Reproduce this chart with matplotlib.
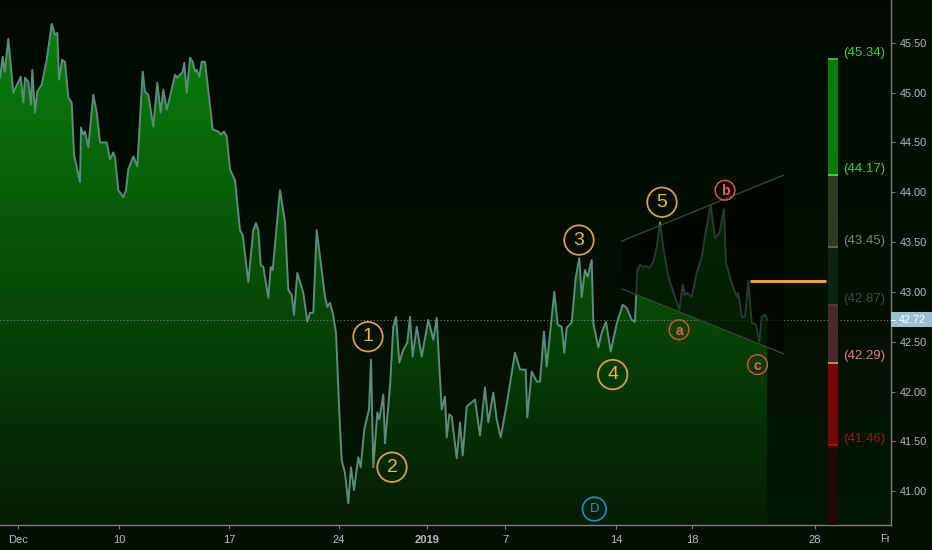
import numpy as np
import matplotlib
matplotlib.use("Agg")
import matplotlib.pyplot as plt
from matplotlib.transforms import Bbox, blended_transform_factory
from matplotlib.patches import Rectangle, Polygon

plt.rcParams['font.family'] = ['Liberation Sans', 'DejaVu Sans']

# ---------------- data ----------------
bar_x = [0, 2.7, 4.7, 8.3, 13.3, 20.7, 23.3, 25, 28.3, 31, 32.3, 35, 37.3, 41.7, 46.7,
         51.7, 55, 57.3, 59, 62, 65, 68.3, 71.7, 74, 80, 81, 83.3, 85, 88.3, 93.3,
         96.7, 100, 106.7, 110, 113.3, 115, 118.3, 123.3, 126, 128.3, 133.3, 137.3, 142.7, 145, 148.3,
         153.3, 157.3, 160.7, 163.3, 166.7, 170, 175, 177.3, 182.7, 184.3, 186.7, 190, 192.7, 195, 196.7,
         199.3, 201.7, 205, 212.7, 218.3, 221, 224, 226.7, 230,
         235, 240, 242.7, 248.3, 253.3, 256, 258.3, 260.7, 263.3, 268.3, 270.7, 272.7, 280, 285, 288.3,
         291.7, 294, 297.3, 303.3, 307.3, 310, 313.3, 316.7, 320, 325, 327.3, 330, 332.7, 336, 339.3,
         341.7, 345, 348.3, 351, 354, 358.3, 360.7, 364.3, 369, 371, 373.3, 377.3, 379.3, 383.3, 385,
         390, 393.3, 396, 399.3, 403.3, 407.3, 410, 412.7, 416.7, 421.7, 428.3, 433.3, 436.7,
         441.7, 445, 446.7, 449.3, 451.7, 456.7, 460, 462.7, 466.7, 475, 480, 485, 488.3, 493.3, 496.7,
         500.7, 506.7, 515, 520, 525.7, 527.3, 531.7, 536.7, 540, 544, 546.7, 550.7, 554.3, 557.7, 561.7,
         564.3, 566.7, 571.7, 575.7, 579.3, 581.7, 585, 587.7, 591.7, 593.3, 598.3, 601.7, 606, 610.7, 616.7,
         622.7, 626.7, 631.7, 635, 637.3, 640, 643.3, 645.7, 649.3, 653.3, 656.7, 660, 663.3, 668.3, 673.3,
         679.3, 682.7, 685, 687.3, 691.7, 696.7, 701.7, 706, 710.7, 715, 719.3, 724, 726, 731.7, 736.7,
         738.3, 741.7, 745, 748.3, 751.7, 756, 759.3, 761.7, 765, 767.3]

close = [45.15, 45.36, 45.21, 45.54, 45.00, 45.16, 44.90, 45.15, 45.11, 44.88, 45.23, 44.80, 45.01, 45.08, 45.33,
         45.69, 45.58, 45.60, 45.13, 45.33, 45.31, 44.95, 44.90, 44.38, 44.10, 44.65, 44.58, 44.61, 44.45, 44.98,
         44.80, 44.50, 44.50, 44.33, 44.40, 44.35, 44.02, 43.95, 44.02, 44.23, 44.36, 44.26, 45.21, 45.01, 44.98,
         44.66, 45.10, 44.80, 45.03, 44.83, 44.96, 45.18, 45.15, 45.21, 45.30, 45.00, 45.35, 45.31, 45.21, 45.23,
         45.16, 45.31, 45.31, 44.63, 44.61, 44.58, 44.61, 44.56, 44.23,
         44.12, 43.62, 43.57, 43.10, 43.62, 43.69, 43.62, 43.27, 43.25, 42.94, 43.25, 43.22, 44.02, 43.70, 43.02,
         42.97, 42.77, 43.19, 42.99, 42.70, 42.79, 42.79, 43.62, 43.35, 42.95, 42.85, 42.89, 42.79, 42.59, 41.79,
         41.31, 41.18, 40.88, 41.24, 41.01, 41.34, 41.24, 41.62, 41.82, 42.32, 41.24, 41.79, 41.72, 41.97, 41.48,
         42.05, 42.65, 42.75, 42.29, 42.42, 42.49, 42.75, 42.35, 42.65, 42.35, 42.72, 42.52, 42.74,
         41.82, 41.95, 41.54, 41.77, 41.75, 41.33, 41.69, 41.36, 41.85, 41.92, 41.56, 42.04, 41.69, 41.99, 41.72,
         41.54, 41.87, 42.39, 42.22, 42.22, 41.74, 42.20, 42.10, 42.10, 42.60, 42.25, 42.65, 43.00, 42.67, 42.65,
         42.39, 42.64, 42.69, 43.14, 43.34, 42.95, 43.22, 43.15, 43.32, 42.69, 42.44, 42.59, 42.70, 42.40, 42.68,
         42.87, 42.84, 42.72, 42.70, 43.22, 43.27, 43.25, 43.26, 43.24, 43.30, 43.45, 43.70, 43.45, 43.15, 43.00,
         42.82, 43.07, 42.97, 42.99, 42.95, 43.19, 43.35, 43.62, 43.87, 43.54, 43.59, 43.83, 43.29, 43.09, 42.95,
         42.99, 42.75, 42.75, 43.11, 42.69, 42.67, 42.50, 42.75, 42.77, 42.72]

last_price = 42.72

x_tick_pos = [18, 119, 229, 339, 427, 505, 616, 692, 815]
x_tick_labels = ['Dec', '10', '17', '24', '2019', '7', '14', '18', '28']
y_ticks = [41.00, 41.50, 42.00, 42.50, 43.00, 43.50, 44.00, 44.50, 45.00, 45.50]

# Elliott wave labels
wave_labels = ['1', '2', '3', '4', '5']
wave_x = [368, 392, 579, 612.7, 662]
wave_y = [42.55, 41.24, 43.52, 42.17, 43.90]
abc_labels = ['a', 'b', 'c']
abc_x = [679, 725, 757.5]
abc_y = [42.62, 44.02, 42.27]
d_label = 'D'
d_x, d_y = 594.3, 40.82

# channel (expanding triangle)
chan_x = [621.7, 783.3]
chan_upper = [43.51, 44.17]
chan_lower = [43.03, 42.38]

# orange target line
target_x = [750, 826]
target_y = 43.11

# forecast level bar
level_values = [45.34, 44.17, 43.45, 42.87, 42.29, 41.46]
level_seg_colors = ['#0b7a0b', '#2a3c22', '#0f210f', '#4a2a27', '#760606', '#230808']
level_edge_colors = ['#3fc43f', '#44e044', '#5e6e52', '#5a3c38', '#e88080', '#a81515']
level_text_colors = ['#36d236', '#36d236', '#7d8a6e', '#3d4e3a', '#e87c7c', '#9a1616']
bar_center, bar_width = 833, 9.4

# ---------------- figure ----------------
W, H = 932, 550
fig = plt.figure(figsize=(W / 100, H / 100), dpi=100)
fig.patch.set_facecolor('#030f03')
ax = fig.add_axes([0, 25 / H, 891 / W, 525 / H])
ymin, ymax = 40.66, 45.93
xmin, xmax = 0, 891

# background gradient
g = np.linspace(0, 1, 256)[:, None, None]
bg_top = np.array([0.005, 0.035, 0.005])
bg_bot = np.array([0.015, 0.085, 0.015])
bg = bg_top * (1 - g) + bg_bot * g
ax.imshow(bg, extent=[xmin, xmax, ymin, ymax], aspect='auto', origin='upper', zorder=0)

# area fill gradient clipped to the price area
fill = ax.fill_between(bar_x, close, ymin, color='none', lw=0, zorder=1)
f_top = np.array([0.04, 0.52, 0.04])
f_bot = np.array([0.02, 0.11, 0.02])
fg = f_top * (1 - g) + f_bot * g
im = ax.imshow(fg, extent=[xmin, xmax, ymin, ymax], aspect='auto', origin='upper', zorder=1)
im.set_clip_path(fill.get_paths()[0], transform=ax.transData)

# price line
ax.plot(bar_x, close, color='#5b8c7c', lw=1.4, zorder=3, solid_joinstyle='round')

# channel overlay (drawn over the price, dimming it)
poly = Polygon([[chan_x[0], chan_upper[0]], [chan_x[1], chan_upper[1]],
                [chan_x[1], chan_lower[1]], [chan_x[0], chan_lower[0]]],
               closed=True, facecolor='black', alpha=0.58, edgecolor='none', zorder=4)
ax.add_patch(poly)
ax.plot(chan_x, chan_upper, color='#2f4a2f', lw=1.0, zorder=4)
ax.plot(chan_x, chan_lower, color='#2f4a2f', lw=1.0, zorder=4)

# last price dotted line
ax.axhline(last_price, color='#8a968a', lw=0.8, ls=(0, (1, 2)), alpha=0.8, zorder=3)

# target line
ax.plot(target_x, [target_y, target_y], color='#f5a01a', lw=2.2, zorder=5, solid_capstyle='butt')

# level bar
bottoms = level_values[1:] + [ymin]
for top, bot, c in zip(level_values, bottoms, level_seg_colors):
    ax.bar(bar_center, top - bot, bottom=bot, width=bar_width, color=c, edgecolor='none', zorder=5)
for v, ec, tc in zip(level_values, level_edge_colors, level_text_colors):
    ax.hlines(v, bar_center - bar_width / 2, bar_center + bar_width / 2, color=ec, lw=1.3, zorder=6)
    ax.annotate(f'({v:.2f})', xy=(842.7, v), xytext=(0, 4.5), textcoords='offset points',
                va='center', ha='left', color=tc, fontsize=9.5, zorder=7)

# wave annotations
for lab, x, y in zip(wave_labels, wave_x, wave_y):
    ax.scatter([x], [y], s=450, facecolors='none', edgecolors='#d9a040', linewidths=1.3, zorder=8)
    ax.text(x, y, lab, ha='center', va='center', color='#f2b640', fontsize=14, zorder=9)
abc_edge = ['#c8553f', '#e0505c', '#c8553f']
abc_text = ['#e8604e', '#ee5c66', '#e8604e']
for lab, x, y, ec, tc in zip(abc_labels, abc_x, abc_y, abc_edge, abc_text):
    ax.scatter([x], [y], s=200, facecolors='none', edgecolors=ec, linewidths=1.1, zorder=8)
    ax.text(x, y - 0.01, lab, ha='center', va='center', color=tc, fontsize=10, fontweight='bold', zorder=9)
ax.scatter([d_x], [d_y], s=290, facecolors='none', edgecolors='#1f8ad0', linewidths=1.2, zorder=8)
ax.text(d_x, d_y, d_label, ha='center', va='center', color='#2a96dc', fontsize=9.5, zorder=9)

ax.set_xlim(xmin, xmax)
ax.set_ylim(ymin, ymax)

# axes styling
for s in ['top', 'left']:
    ax.spines[s].set_visible(False)
for s in ['right', 'bottom']:
    ax.spines[s].set_color('#7a7f7a')
    ax.spines[s].set_linewidth(1.0)
ax.yaxis.tick_right()
ax.set_yticks(y_ticks)
ax.set_yticklabels([f'{v:.2f}' for v in y_ticks])
ax.set_xticks(x_tick_pos)
ax.set_xticklabels(x_tick_labels)
ax.tick_params(axis='y', colors='#7a7f7a', labelcolor='#b8bcb8', labelsize=7.8, length=3, pad=3, width=0.8)
ax.tick_params(axis='x', colors='#7a7f7a', labelcolor='#b8bcb8', labelsize=8, length=3, pad=4, width=0.8)
for lbl in ax.get_xticklabels():
    if lbl.get_text() == '2019':
        lbl.set_fontweight('bold')

# clipped 'Fr' label at the right edge of the time axis
t = fig.text(885 / W, 1 - 539 / H, 'Fr', ha='center', va='center', color='#b8bcb8', fontsize=8)
t.set_clip_box(Bbox.from_extents(0, 0, 889, H))
t.set_clip_on(True)

# last price tag on the price axis
tr = blended_transform_factory(fig.transFigure, ax.transData)
fig.patches.append(Rectangle((891 / W, last_price - 0.076), 41 / W, 0.152, transform=tr,
                             facecolor='#9bbfd3', edgecolor='none', figure=fig))
fig.lines.append(plt.Line2D([891 / W, 895 / W], [last_price, last_price], transform=tr,
                            color='white', lw=0.8, figure=fig))
tag = fig.text(899 / W, last_price, f'{last_price:.2f}', transform=tr, ha='left', va='center',
               color='white', fontsize=7.8)

fig.savefig('out.png', dpi=100, facecolor=fig.get_facecolor())
